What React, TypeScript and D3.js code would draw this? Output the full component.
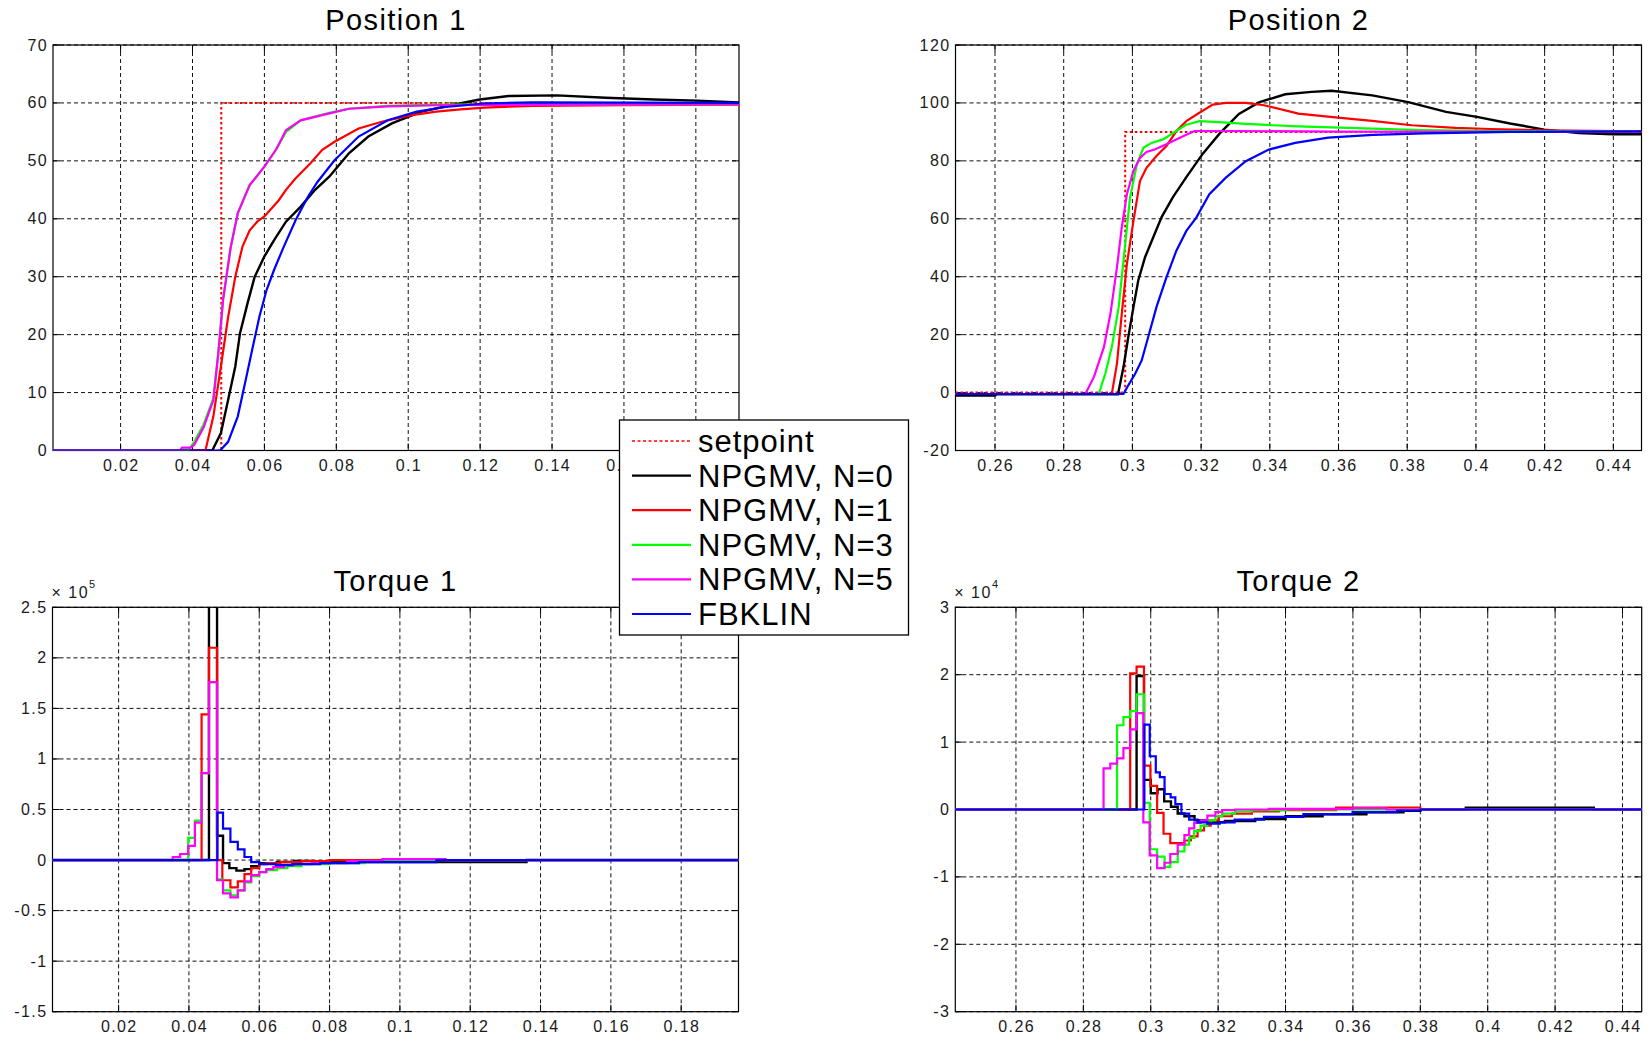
import * as d3 from "d3";

type Pt = [number, number];

// ---- series meta ----
const seriesNames = ["setpoint", "NPGMV, N=0", "NPGMV, N=1", "NPGMV, N=3", "NPGMV, N=5", "FBKLIN"];
const seriesColors = ["#ff0000", "#000000", "#ff0000", "#00ff00", "#ff00ff", "#0000ff"];

// ---- Position 1 ----
const pos1Setpoint: Pt[] = [[0.001, 0], [0.048, 0], [0.048, 60], [0.192, 60]];
const pos1N0: Pt[] = [[0.001, 0], [0.0455, 0], [0.0479, 3], [0.0499, 8.7], [0.0519, 14.5], [0.0532, 20.2], [0.0553, 25.4], [0.0573, 30], [0.06, 33.5], [0.0627, 36.3], [0.066, 39.5], [0.0701, 42.1], [0.0741, 45], [0.0781, 47.3], [0.0835, 51.3], [0.0889, 54.2], [0.0956, 56.5], [0.1037, 58.5], [0.1118, 59.6], [0.1199, 60.6], [0.1279, 61.2], [0.1414, 61.3], [0.1549, 60.9], [0.1683, 60.6], [0.1804, 60.4], [0.192, 60.1]];
const pos1N1: Pt[] = [[0.001, 0], [0.0436, 0], [0.0458, 5.9], [0.0479, 14.5], [0.0499, 23], [0.0519, 30], [0.0539, 35.2], [0.0559, 38], [0.058, 39.5], [0.06, 40.4], [0.064, 43.2], [0.066, 45], [0.0687, 47], [0.0728, 49.6], [0.0761, 51.9], [0.0795, 53.3], [0.0862, 55.6], [0.0929, 56.8], [0.101, 57.9], [0.1078, 58.5], [0.1145, 58.9], [0.1212, 59.2], [0.1347, 59.5], [0.1602, 59.6], [0.192, 59.7]];
const pos1N3: Pt[] = [[0.001, 0], [0.0388, 0], [0.0405, 1.5], [0.0431, 4.5], [0.0458, 9], [0.0472, 17], [0.0485, 26], [0.0506, 35], [0.0526, 41], [0.0559, 45.8], [0.06, 49], [0.0633, 52], [0.066, 55], [0.0701, 57], [0.0781, 58.3], [0.0835, 59], [0.0943, 59.5], [0.108, 59.7], [0.192, 59.8]];
const pos1N5: Pt[] = [[0.001, 0], [0.0365, 0], [0.0371, 0.5], [0.0395, 0.5], [0.0405, 1], [0.0431, 4], [0.0458, 8.7], [0.0472, 17], [0.0485, 26], [0.0506, 35], [0.0526, 41], [0.0559, 45.8], [0.06, 49], [0.0633, 52], [0.066, 55.3], [0.0701, 57], [0.0781, 58.2], [0.0835, 59], [0.0943, 59.4], [0.108, 59.6], [0.192, 59.8]];
const pos1FB: Pt[] = [[0.001, 0], [0.0477, 0], [0.0499, 1.5], [0.0526, 5.9], [0.0546, 11.6], [0.0566, 17.4], [0.0586, 23.1], [0.0606, 27.7], [0.0627, 31.2], [0.0654, 35.2], [0.0687, 39.8], [0.0721, 43.8], [0.0748, 46.4], [0.0795, 50.1], [0.0862, 54.2], [0.0943, 57], [0.1024, 58.5], [0.1104, 59.3], [0.1212, 59.9], [0.1347, 60.1], [0.192, 60]];

// ---- Position 2 ----
const pos2Setpoint: Pt[] = [[0.2485, 0], [0.2979, 0], [0.2979, 90], [0.4482, 90]];
const pos2N0: Pt[] = [[0.2485, -1], [0.26, -1], [0.2605, -0.6], [0.2958, -0.6], [0.2974, 8.8], [0.2988, 19.2], [0.3003, 29.5], [0.3017, 38.7], [0.3037, 46.8], [0.3061, 53.7], [0.3085, 60.6], [0.3118, 67.5], [0.3157, 74.4], [0.3205, 82.5], [0.3253, 89.3], [0.331, 96.2], [0.3368, 100.2], [0.3445, 103], [0.3522, 103.8], [0.358, 104.2], [0.3698, 102.6], [0.3803, 100.3], [0.3913, 96.9], [0.4003, 95.2], [0.4099, 92.9], [0.4199, 90.8], [0.4299, 89.6], [0.44, 89.2], [0.4482, 89.2]];
const pos2N1: Pt[] = [[0.2485, -0.5], [0.294, -0.5], [0.2955, 10], [0.2969, 27.2], [0.2984, 44.4], [0.3003, 59.3], [0.3022, 73], [0.3041, 77.6], [0.307, 81.7], [0.3099, 85.1], [0.3128, 90.3], [0.3157, 93.7], [0.3195, 96.6], [0.3234, 99.4], [0.3272, 100], [0.333, 100], [0.3383, 99.2], [0.3483, 96.3], [0.3598, 94.9], [0.3698, 93.8], [0.3813, 92.3], [0.3941, 91.4], [0.4042, 91], [0.42, 90.5], [0.4482, 90.2]];
const pos2N3: Pt[] = [[0.2485, -0.5], [0.2902, -0.5], [0.2921, 6.5], [0.294, 15.7], [0.296, 29.5], [0.2974, 45.5], [0.2993, 67.3], [0.3013, 78.8], [0.3032, 84.5], [0.3056, 86.2], [0.3089, 87.4], [0.3128, 90.3], [0.3157, 92.5], [0.3195, 93.7], [0.3252, 93.4], [0.333, 92.8], [0.3426, 92.2], [0.3483, 91.9], [0.3698, 91.1], [0.3841, 90.6], [0.4056, 90.3], [0.4482, 90.1]];
const pos2N5: Pt[] = [[0.2485, -0.5], [0.2863, -0.5], [0.2888, 5.4], [0.2917, 15.7], [0.2936, 27.2], [0.2955, 43.2], [0.2969, 57], [0.2984, 68.5], [0.3003, 76.5], [0.3022, 81], [0.3041, 83.1], [0.3065, 83.9], [0.3099, 85.7], [0.3138, 88], [0.3181, 90.3], [0.33, 90.3], [0.36, 90.1], [0.4482, 90]];
const pos2FB: Pt[] = [[0.2485, -0.5], [0.2974, -0.5], [0.2988, 2.5], [0.3008, 6.5], [0.3027, 11.1], [0.3046, 19.2], [0.307, 29.5], [0.3099, 39.8], [0.3128, 49], [0.3157, 55.8], [0.3186, 60.4], [0.3224, 68.5], [0.3272, 74.2], [0.333, 79.9], [0.3397, 83.9], [0.3474, 86.2], [0.357, 88], [0.37, 89], [0.385, 89.5], [0.41, 90], [0.4482, 90.2]];

// ---- Torque 1 (x 10^5), sample-and-hold ----
const tq1N0: Pt[] = [[0.001, 0], [0.0457, 3.2], [0.048, 0.24], [0.0497, -0.03], [0.0515, -0.08], [0.0535, -0.105], [0.0558, -0.09], [0.0577, -0.06], [0.06, -0.03], [0.065, -0.02], [0.07, -0.01], [0.075, -0.02], [0.1, -0.02], [0.136, 0], [0.1963, 0]];
const tq1N1: Pt[] = [[0.001, 0], [0.0436, 1.44], [0.0457, 2.1], [0.048, 0], [0.0495, -0.2], [0.0518, -0.27], [0.0539, -0.21], [0.0558, -0.14], [0.0577, -0.08], [0.06, -0.04], [0.062, -0.03], [0.066, -0.02], [0.072, -0.01], [0.08, 0], [0.1963, 0]];
const tq1N3: Pt[] = [[0.001, 0], [0.0398, 0.22], [0.0417, 0.39], [0.0436, 0.86], [0.0457, 1.76], [0.048, -0.19], [0.0497, -0.3], [0.0518, -0.35], [0.0539, -0.3], [0.0558, -0.22], [0.0577, -0.16], [0.06, -0.12], [0.062, -0.1], [0.065, -0.08], [0.068, -0.06], [0.072, -0.04], [0.08, -0.03], [0.09, -0.01], [0.1, 0], [0.1963, 0]];
const tq1N5: Pt[] = [[0.001, 0], [0.0354, 0.03], [0.0375, 0.06], [0.0398, 0.14], [0.0417, 0.37], [0.0436, 0.86], [0.0457, 1.76], [0.048, -0.2], [0.0497, -0.33], [0.0518, -0.37], [0.0539, -0.3], [0.0558, -0.21], [0.0577, -0.15], [0.06, -0.12], [0.062, -0.09], [0.064, -0.07], [0.067, -0.05], [0.07, -0.04], [0.075, -0.03], [0.085, -0.01], [0.095, 0.01], [0.113, 0], [0.1963, 0]];
const tq1FB: Pt[] = [[0.001, 0], [0.0481, 0.47], [0.0497, 0.31], [0.0518, 0.18], [0.0539, 0.105], [0.0558, 0.03], [0.0577, -0.02], [0.06, -0.04], [0.0647, -0.05], [0.0694, -0.04], [0.0773, -0.03], [0.0884, -0.02], [0.1104, 0], [0.1963, 0]];

// ---- Torque 2 (x 10^4), sample-and-hold ----
const tq2N0: Pt[] = [[0.242, 0], [0.2958, 1.98], [0.298, 0.44], [0.3, 0.24], [0.302, 0.3], [0.304, 0.12], [0.306, 0.04], [0.308, -0.06], [0.31, -0.1], [0.313, -0.16], [0.317, -0.19], [0.322, -0.17], [0.331, -0.14], [0.34, -0.1], [0.351, -0.07], [0.364, -0.04], [0.375, -0.02], [0.38, 0], [0.3935, 0.025], [0.4315, 0], [0.4457, 0]];
const tq2N1: Pt[] = [[0.242, 0], [0.2939, 2.02], [0.2958, 2.12], [0.298, 0.65], [0.2999, 0.35], [0.3019, -0.05], [0.3038, -0.36], [0.3058, -0.5], [0.308, -0.5], [0.31, -0.46], [0.3119, -0.4], [0.3139, -0.31], [0.3158, -0.24], [0.3178, -0.16], [0.3202, -0.1], [0.3241, -0.06], [0.33, -0.03], [0.338, -0.01], [0.355, 0.03], [0.38, 0], [0.4457, 0]];
const tq2N3: Pt[] = [[0.242, 0], [0.29, 1.25], [0.2919, 1.37], [0.2939, 1.46], [0.2958, 1.71], [0.298, 0.1], [0.2997, -0.59], [0.3019, -0.7], [0.3041, -0.85], [0.3058, -0.78], [0.308, -0.62], [0.31, -0.52], [0.3114, -0.42], [0.3129, -0.32], [0.3148, -0.24], [0.3168, -0.16], [0.3192, -0.1], [0.3212, -0.06], [0.325, -0.03], [0.33, -0.01], [0.34, 0], [0.4457, 0]];
const tq2N5: Pt[] = [[0.242, 0], [0.286, 0.61], [0.288, 0.68], [0.29, 0.76], [0.2919, 0.91], [0.2939, 1.19], [0.2958, 1.43], [0.2978, -0.19], [0.2997, -0.68], [0.3019, -0.87], [0.3041, -0.79], [0.3058, -0.66], [0.308, -0.52], [0.31, -0.38], [0.3114, -0.28], [0.3129, -0.2], [0.3148, -0.16], [0.3168, -0.09], [0.3192, -0.04], [0.3212, -0.01], [0.325, 0], [0.335, 0.01], [0.36, 0.02], [0.37, 0], [0.4457, 0]];
const tq2FB: Pt[] = [[0.242, 0], [0.2981, 1.26], [0.2997, 0.79], [0.3015, 0.55], [0.3027, 0.48], [0.3041, 0.23], [0.3059, 0.18], [0.3073, 0.08], [0.3091, -0.06], [0.3114, -0.15], [0.3139, -0.19], [0.3168, -0.21], [0.3205, -0.19], [0.3249, -0.15], [0.3336, -0.11], [0.3453, -0.07], [0.3599, -0.04], [0.3731, -0.015], [0.3801, 0], [0.4457, 0]];

// ---- ticks ----
const xTicksLeft = [0.02, 0.04, 0.06, 0.08, 0.1, 0.12, 0.14, 0.16, 0.18];
const xTicksRight = [0.26, 0.28, 0.3, 0.32, 0.34, 0.36, 0.38, 0.4, 0.42, 0.44];
const yTicksPos1 = [0, 10, 20, 30, 40, 50, 60, 70];
const yTicksPos2 = [-20, 0, 20, 40, 60, 80, 100, 120];
const yTicksTq1 = [-1.5, -1, -0.5, 0, 0.5, 1, 1.5, 2, 2.5];
const yTicksTq2 = [-3, -2, -1, 0, 1, 2, 3];

const FONT = "'Liberation Sans', Arial, sans-serif";

interface Frame { left: number; right: number; top: number; bottom: number }

interface PanelProps {
  id: string;
  title: string;
  frame: Frame;
  xDomain: [number, number];
  yDomain: [number, number];
  xTicks: number[];
  yTicks: number[];
  lines: { data: Pt[]; color: string; dashed?: boolean }[];
  step?: boolean;
  exponent?: string;
}

const fmt = (v: number) => String(+v.toFixed(2));

const Panel = ({ id, title, frame, xDomain, yDomain, xTicks, yTicks, lines, step, exponent }: PanelProps) => {
  const { left, right, top, bottom } = frame;
  const x = d3.scaleLinear().domain(xDomain).range([left, right]);
  const y = d3.scaleLinear().domain(yDomain).range([bottom, top]);
  const line = d3
    .line<Pt>()
    .x((d) => x(d[0]))
    .y((d) => y(d[1]))
    .curve(step ? d3.curveStepAfter : d3.curveLinear);
  const tickLen = 7;

  return (
    <g>
      <defs>
        <clipPath id={id}>
          <rect x={left} y={top} width={right - left} height={bottom - top} />
        </clipPath>
      </defs>
      <text x={(left + right) / 2} y={step ? top - 16 : top - 15.5} textAnchor="middle" fontSize={29} letterSpacing={1.4} fontFamily={FONT} fill="#000">
        {title}
      </text>
      {/* grid */}
      <g stroke="#111" strokeWidth={1} strokeDasharray="4 3">
        {xTicks.map((t) => (
          <line key={"gx" + t} x1={x(t)} x2={x(t)} y1={top} y2={bottom} />
        ))}
        {yTicks.map((t) => (
          <line key={"gy" + t} x1={left} x2={right} y1={y(t)} y2={y(t)} />
        ))}
      </g>
      {/* ticks */}
      <g stroke="#000" strokeWidth={1}>
        {xTicks.map((t) => (
          <g key={"tx" + t}>
            <line x1={x(t)} x2={x(t)} y1={bottom} y2={bottom - tickLen} />
            <line x1={x(t)} x2={x(t)} y1={top} y2={top + tickLen} />
          </g>
        ))}
        {yTicks.map((t) => (
          <g key={"ty" + t}>
            <line x1={left} x2={left + tickLen} y1={y(t)} y2={y(t)} />
            <line x1={right} x2={right - tickLen} y1={y(t)} y2={y(t)} />
          </g>
        ))}
      </g>
      <rect x={left} y={top} width={right - left} height={bottom - top} fill="none" stroke="#000" strokeWidth={1.2} />
      {/* tick labels */}
      <g fontFamily={FONT} fontSize={16} letterSpacing={1.4} fill="#1a1a1a">
        {xTicks.map((t) => (
          <text key={"lx" + t} x={x(t) + 0.7} y={bottom + 20} textAnchor="middle">
            {fmt(t)}
          </text>
        ))}
        {yTicks.map((t) => (
          <text key={"ly" + t} x={left - 5} y={y(t) + 5.5} textAnchor="end">
            {fmt(t)}
          </text>
        ))}
        {exponent && (
          <text x={left - 1} y={top - 9} fontSize={16} letterSpacing={1.5}>
            × 10
            <tspan dy={-10} fontSize={11} letterSpacing={0}>
              {exponent}
            </tspan>
          </text>
        )}
      </g>
      {/* data */}
      <g clipPath={`url(#${id})`} fill="none">
        {lines.map((l, i) => (
          <path
            key={i}
            d={line(l.data) ?? ""}
            stroke={l.color}
            strokeWidth={l.dashed ? 2 : l.color === "#000000" ? 2.4 : 2.2}
            strokeDasharray={l.dashed ? "2.5 2.5" : undefined}
            strokeLinejoin="miter"
          />
        ))}
      </g>
    </g>
  );
};

const Legend = () => {
  const box = { x: 619.5, y: 420, w: 289, h: 215 };
  const rowY = d3.scaleLinear().domain([0, seriesNames.length - 1]).range([441, 614]);
  return (
    <g>
      <rect x={box.x} y={box.y} width={box.w} height={box.h} fill="#fff" stroke="#000" strokeWidth={1.3} />
      {seriesNames.map((name, i) => (
        <g key={name}>
          <line
            x1={632}
            x2={691}
            y1={rowY(i)}
            y2={rowY(i)}
            stroke={seriesColors[i]}
            strokeWidth={i === 0 ? 1.4 : 2.2}
            strokeDasharray={i === 0 ? "3 2.5" : undefined}
          />
          <text x={698} y={rowY(i) + 11} fontFamily={FONT} fontSize={31} letterSpacing={1} fill="#000">
            {name}
          </text>
        </g>
      ))}
    </g>
  );
};

const posLines = (sp: Pt[], n0: Pt[], n1: Pt[], n3: Pt[], n5: Pt[], fb: Pt[]) => [
  { data: sp, color: seriesColors[0], dashed: true },
  { data: n0, color: seriesColors[1] },
  { data: n1, color: seriesColors[2] },
  { data: n3, color: seriesColors[3] },
  { data: n5, color: seriesColors[4] },
  { data: fb, color: seriesColors[5] },
];

const tqLines = (n0: Pt[], n1: Pt[], n3: Pt[], n5: Pt[], fb: Pt[]) => [
  { data: n0, color: seriesColors[1] },
  { data: n1, color: seriesColors[2] },
  { data: n3, color: seriesColors[3] },
  { data: n5, color: seriesColors[4] },
  { data: fb, color: seriesColors[5] },
];

export default function App() {
  return (
    <svg
      width={1652}
      height={1037}
      viewBox="0 0 1652 1037"
      style={{ position: "absolute", left: 0, top: 0, background: "#fff", display: "block" }}
    >
      <rect width={1652} height={1037} fill="#fff" />
      <Panel
        id="clip-p1"
        title="Position 1"
        frame={{ left: 53, right: 739, top: 45, bottom: 450.5 }}
        xDomain={[0.0012, 0.192]}
        yDomain={[0, 70]}
        xTicks={xTicksLeft}
        yTicks={yTicksPos1}
        lines={posLines(pos1Setpoint, pos1N0, pos1N1, pos1N3, pos1N5, pos1FB)}
      />
      <Panel
        id="clip-p2"
        title="Position 2"
        frame={{ left: 955.5, right: 1641.5, top: 45, bottom: 450.5 }}
        xDomain={[0.2485, 0.4482]}
        yDomain={[-20, 120]}
        xTicks={xTicksRight}
        yTicks={yTicksPos2}
        lines={posLines(pos2Setpoint, pos2N0, pos2N1, pos2N3, pos2N5, pos2FB)}
      />
      <Panel
        id="clip-p3"
        title="Torque 1"
        frame={{ left: 52.5, right: 738.5, top: 607.3, bottom: 1011.7 }}
        xDomain={[0.0012, 0.1963]}
        yDomain={[-1.5, 2.5]}
        xTicks={xTicksLeft}
        yTicks={yTicksTq1}
        lines={tqLines(tq1N0, tq1N1, tq1N3, tq1N5, tq1FB)}
        step
        exponent="5"
      />
      <Panel
        id="clip-p4"
        title="Torque 2"
        frame={{ left: 955.3, right: 1641.7, top: 607.3, bottom: 1011.7 }}
        xDomain={[0.242, 0.4457]}
        yDomain={[-3, 3]}
        xTicks={xTicksRight}
        yTicks={yTicksTq2}
        lines={tqLines(tq2N0, tq2N1, tq2N3, tq2N5, tq2FB)}
        step
        exponent="4"
      />
      <Legend />
    </svg>
  );
}
